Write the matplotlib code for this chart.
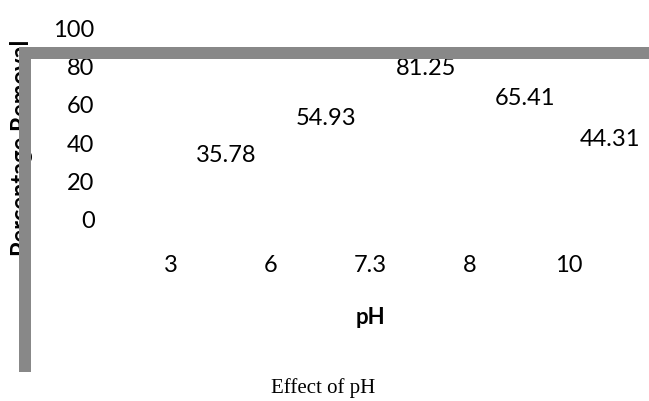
import matplotlib
matplotlib.use("Agg")
import matplotlib.pyplot as plt
from matplotlib.patches import Rectangle

# data
ph_labels = ["3", "6", "7.3", "8", "10"]
removal = [35.78, 54.93, 81.25, 65.41, 44.31]
y_ticks = [0, 20, 40, 60, 80, 100]

W, H = 649, 402
plt.rcParams['font.family'] = ['Lato', 'DejaVu Sans']

fig = plt.figure(figsize=(W / 100, H / 100), dpi=100)

# axes box in pixels (left, top, right, bottom)
l, t, r, b = 121, 20, 619, 248
ax = fig.add_axes([l / W, 1 - b / H, (r - l) / W, (b - t) / H])
ax.set_xlim(-0.5, 4.5)
ax.set_ylim(-14.6, 104.2)
for s in ax.spines.values():
    s.set_visible(False)
ax.set_facecolor("none")

ax.set_xticks(range(len(ph_labels)))
ax.set_xticklabels(ph_labels, fontsize=17)
ax.set_yticks(y_ticks)
ax.set_yticklabels([str(v) for v in y_ticks], fontsize=17)
ax.tick_params(axis="both", length=0)
ax.tick_params(axis="y", pad=19)
ax.tick_params(axis="x", pad=5)

# data labels, shifted right of each category
texts = []
for i, v in enumerate(removal):
    texts.append(ax.text(i + 0.56, v - 2.2, f"{v:.2f}", fontsize=17,
                         ha="center", va="center"))

ax.set_xlabel("pH", fontsize=16, fontweight="bold")
ax.xaxis.set_label_coords(0.5, (b - 318) / (b - t))
ax.xaxis.label.set_va("center")
ax.set_ylabel("Percentage Removal", fontsize=17, fontweight="bold")
ax.yaxis.set_label_coords((22 - l) / (r - l), (b - 148) / (b - t))
ax.yaxis.label.set_va("center")

fig.text(323 / W, 1 - 388 / H, "Effect of pH", family="Liberation Serif",
         fontsize=15, ha="center", va="center")

# keep last label inside the figure
fig.canvas.draw()
rend = fig.canvas.get_renderer()
for tx in texts:
    bb = tx.get_window_extent(rend)
    if bb.x1 > W - 9:
        x, y = tx.get_position()
        dx = (bb.x1 - (W - 9)) / ((r - l) / 5)
        tx.set_position((x - dx, y))

# thick grey frame lines
grey = "#888888"
fig.add_artist(Rectangle((19 / W, 1 - 373 / H), 12 / W, (373 - 48) / H,
                         transform=fig.transFigure, color=grey, zorder=5, lw=0))
fig.add_artist(Rectangle((19 / W, 1 - 60 / H), (W - 19) / W, 12 / H,
                         transform=fig.transFigure, color=grey, zorder=5, lw=0))

fig.savefig("out.png", dpi=100)
